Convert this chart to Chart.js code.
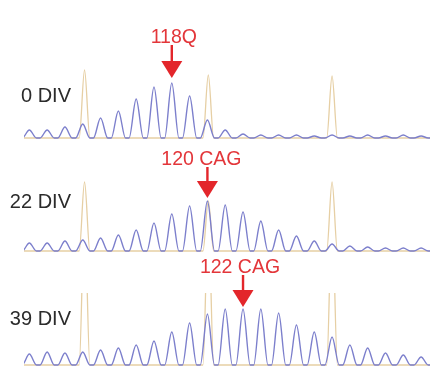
<!DOCTYPE html>
<html>
<head>
<meta charset="utf-8">
<script src="https://cdn.jsdelivr.net/npm/chart.js@4.4.1/dist/chart.umd.min.js"></script>
<style>
    html, body { margin: 0; padding: 0; background: #fff; }
    body { width: 438px; height: 386px; position: relative; overflow: hidden; }
    .panel { position: absolute; left: 0; width: 438px; }
</style>
</head>
<body>
<div class="panel" style="top:0;height:142px"><canvas id="p0"></canvas></div>
<div class="panel" style="top:142px;height:114px"><canvas id="p1"></canvas></div>
<div class="panel" style="top:256px;height:130px"><canvas id="p2"></canvas></div>
<script>
// Fragment analysis traces: CAG repeat peaks (blue) and size standard peaks (tan)

// CAG repeat number of each blue peak
const repeats = [110, 111, 112, 113, 114, 115, 116, 117, 118, 119, 120, 121,
                 122, 123, 124, 125, 126, 127, 128, 129, 130, 131, 132];

// peak heights (relative fluorescence) per time point
const div0  = [8, 8, 11, 14, 20, 27, 39, 51, 55, 42, 18, 8, 4, 3, 3, 3, 2, 3, 2, 3, 2, 3, 2];
const div22 = [8, 8, 10, 11, 13, 16, 21, 28, 37, 45, 50, 46, 39, 30, 21, 15, 10, 7, 5, 4, 3, 3, 3];
const div39 = [11, 13, 12, 13, 15, 17, 20, 24, 33, 42, 51, 56, 56, 56, 52, 40, 33, 28, 20, 17, 12, 10, 8];

// size standard peaks
const stdRepeats = [113.1, 120.05, 127];
const std0  = [68, 63, 62];
const std22 = [69, 50, 69];
const std39 = [150, 150, 150];   // off scale, clipped at the top

const panelLabels = ['0 DIV', '22 DIV', '39 DIV'];
const markerRepeats = [118, 120, 122];
const markerLabels = ['118Q', '120 CAG', '122 CAG'];

const xMin = 109.7, xMax = 132.5;

function trace(pos, heights, half) {
    const pts = [{ x: xMin, y: 0 }];
    pos.forEach((r, i) => {
        pts.push({ x: r - half, y: 0 }, { x: r, y: heights[i] }, { x: r + half, y: 0 });
    });
    pts.push({ x: xMax, y: 0 });
    return pts;
}

const markerPlugin = {
    id: 'marker',
    afterDatasetsDraw(chart, args, opts) {
        const { ctx, scales: { x, y } } = chart;
        ctx.save();

        // panel label
        ctx.font = '20px "Liberation Sans", Arial, sans-serif';
        ctx.fillStyle = '#2b2b2b';
        ctx.textAlign = 'right';
        ctx.textBaseline = 'middle';
        ctx.fillText(opts.title, 71, opts.titleY);

        // red arrow onto the marked peak
        const peak = opts.heights[repeats.indexOf(opts.repeat)];
        const px = x.getPixelForValue(opts.repeat);
        const tip = y.getPixelForValue(peak) - opts.gap;
        const triTop = tip - 17;
        const stemTop = triTop - opts.stem;
        ctx.fillStyle = '#e3262b';
        ctx.beginPath();
        ctx.moveTo(px - 10.5, triTop);
        ctx.lineTo(px + 10.5, triTop);
        ctx.lineTo(px, tip);
        ctx.closePath();
        ctx.fill();
        ctx.fillRect(px - 1.2, stemTop, 2.4, triTop - stemTop + 1);

        ctx.font = '19.5px "Liberation Sans", Arial, sans-serif';
        ctx.textAlign = 'center';
        ctx.textBaseline = 'alphabetic';
        ctx.fillStyle = '#e3363a';
        ctx.fillText(opts.label, px + opts.dx, stemTop - 2);
        ctx.restore();
    }
};

function makePanel(id, heights, std, i, yMax, padding, titleY, arrow) {
    new Chart(document.getElementById(id), {
        type: 'line',
        data: {
            datasets: [{
                data: trace(repeats, heights, 0.4),
                borderColor: '#7c7fcc',
                borderWidth: 1.4,
                pointRadius: 0,
                cubicInterpolationMode: 'monotone',
                order: 0
            }, {
                data: trace(stdRepeats, std, 0.3),
                borderColor: '#e6cfa4',
                borderWidth: 1.3,
                pointRadius: 0,
                cubicInterpolationMode: 'monotone',
                order: 1
            }]
        },
        options: {
            responsive: true,
            maintainAspectRatio: false,
            animation: false,
            layout: { padding: padding },
            scales: {
                x: { type: 'linear', min: xMin, max: xMax, display: false },
                y: { min: -2, max: yMax, display: false }
            },
            plugins: {
                legend: { display: false },
                tooltip: { enabled: false },
                marker: Object.assign({
                    title: panelLabels[i],
                    titleY: titleY,
                    repeat: markerRepeats[i],
                    label: markerLabels[i],
                    heights: heights
                }, arrow)
            }
        },
        plugins: [markerPlugin]
    });
}

makePanel('p0', div0, std0, 0, 88, { left: 24, right: 8, top: 50, bottom: 2 }, 96.5, { gap: 5, stem: 16, dx: 2 });
makePanel('p1', div22, std22, 1, 88, { left: 24, right: 8, top: 21, bottom: 3 }, 60.5, { gap: 3, stem: 14, dx: -6 });
makePanel('p2', div39, std39, 2, 72, { left: 24, right: 8, top: 37, bottom: 19 }, 63, { gap: 2, stem: 15, dx: -3 });
</script>
</body>
</html>
